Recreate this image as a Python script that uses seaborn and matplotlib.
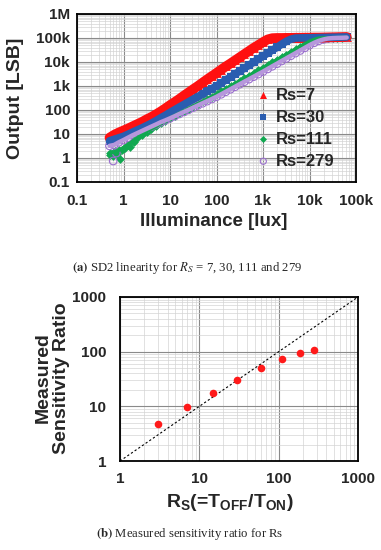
import matplotlib
matplotlib.use('Agg')
import numpy as np
import pandas as pd
import matplotlib.pyplot as plt
import seaborn as sns
from matplotlib.ticker import FixedLocator, FixedFormatter, LogLocator, NullFormatter

# --- data ---
lux = [0.5, 0.63, 0.79, 1.0, 1.26, 1.58, 2.0, 2.51, 3.16, 3.98, 5.01, 6.31, 7.94,
       10.0, 12.6, 15.8, 20.0, 25.1, 31.6, 39.8, 50.1, 63.1, 79.4,
       100, 126, 158, 200, 251, 316, 398, 501, 631, 794,
       1000, 1260, 1580, 2000, 2510, 3160, 3980, 5010, 6310, 7940,
       10000, 12600, 15800, 20000, 25100, 31600, 39800, 50100, 63100]

out_rs7 = [7, 9.3, 11.5, 14, 17, 21, 26, 32, 41, 51, 66, 87, 117,
           160, 214, 288, 400, 540, 740, 1000, 1380, 1900, 2570,
           3500, 4800, 6500, 8700, 11700, 15800, 21400, 28800, 38900, 51000,
           67600, 87000, 98000, 100000, 100000, 101000, 101000, 102000, 102000, 103000,
           103000, 104000, 104000, 105000, 106000, 107000, 108000, 109000, 110000]

out_rs30 = [5.2, 6, 6.9, 8, 9.8, 12, 14.8, 18, 22.4, 28, 36, 47, 60,
            79, 102, 132, 170, 219, 282, 363, 468, 603, 776,
            1000, 1320, 1780, 2340, 3160, 4170, 5500, 7400, 9800, 13200,
            17400, 23400, 30900, 40700, 55000, 72400, 89000, 99000, 100000, 101000,
            102000, 103000, 104000, 105000, 106000, 107000, 108000, 109000, 110000]

out_rs111 = [1.6, 1.8, 2.1, 2.6, 3.6, 5.0, 6.9, 9.3, 12.6, 16.6, 21, 28, 36,
             46, 58, 72, 91, 115, 145, 182, 229, 288, 363,
             457, 589, 759, 977, 1260, 1620, 2090, 2690, 3470, 4470,
             5750, 7410, 9550, 12300, 15800, 20400, 26300, 33900, 43700, 56200,
             72400, 87000, 97700, 100000, 101000, 102000, 103000, 104000, 105000]

out_rs279 = [3.2, 3.5, 4.5, 5.6, 7.1, 8.9, 11, 13.5, 16.6, 20.4, 25, 31, 37,
             45, 55, 68, 83, 102, 126, 155, 191, 234, 288,
             355, 452, 575, 733, 933, 1190, 1510, 1930, 2450, 3130,
             3980, 5130, 6610, 8510, 11000, 14100, 18200, 23400, 30200, 38900,
             50100, 63100, 75900, 87100, 95500, 99000, 101000, 102000, 104000]

# scattered low-light readings
lux_noise_111 = [0.52, 0.58, 0.66, 0.72, 0.86, 0.92, 1.1, 1.4, 1.7]
out_noise_111 = [1.3, 1.2, 2.0, 1.5, 0.9, 2.2, 2.6, 3.0, 4.5]
lux_noise_279 = [0.6, 0.7]
out_noise_279 = [0.75, 1.6]

rs_set = [3, 7, 15, 30, 60, 111, 186, 279]
sens_ratio = [4.7, 9.7, 17.9, 30.9, 50.4, 72.5, 93, 108]
ideal = [1, 1000]

y_ticks_a = [0.1, 1, 10, 100, 1e3, 1e4, 1e5, 1e6]
y_labels_a = ['0.1', '1', '10', '100', '1k', '10k', '100k', '1M']
x_ticks_a = [0.1, 1, 10, 100, 1e3, 1e4, 1e5]
x_labels_a = ['0.1', '1', '10', '100', '1k', '10k', '100k']
ticks_b = [1, 10, 100, 1000]
labels_b = ['1', '10', '100', '1000']

# --- style ---
sns.set_style('white')
plt.rcParams['font.family'] = ['Liberation Sans', 'DejaVu Sans']
plt.rcParams['mathtext.fontset'] = 'custom'
plt.rcParams['mathtext.bf'] = 'Liberation Sans:bold'
plt.rcParams['mathtext.rm'] = 'Liberation Sans:bold'


def style_log(ax, xt, xl, yt, yl, xpad, ypad):
    ax.set_xscale('log')
    ax.set_yscale('log')
    ax.set_xlim(xt[0], xt[-1])
    ax.set_ylim(yt[0], yt[-1])
    for axis, t, l in ((ax.xaxis, xt, xl), (ax.yaxis, yt, yl)):
        axis.set_major_locator(FixedLocator(t))
        axis.set_major_formatter(FixedFormatter(l))
        axis.set_minor_locator(LogLocator(base=10, subs=np.arange(2, 10), numticks=100))
        axis.set_minor_formatter(NullFormatter())
    ax.grid(which='major', color='#8a8a8a', lw=0.8)
    ax.grid(which='minor', color='#d4d4d4', lw=0.5)
    ax.set_axisbelow(True)
    for s in ax.spines.values():
        s.set_color('black')
        s.set_linewidth(1.3)
    ax.tick_params(which='both', length=0, labelsize=11)
    ax.tick_params(axis='x', pad=xpad)
    ax.tick_params(axis='y', pad=ypad)


def bold_ticks(ax):
    for lbl in ax.get_xticklabels() + ax.get_yticklabels():
        lbl.set_fontweight('bold')


fig = plt.figure(figsize=(3.81, 5.50), dpi=100)

# --- (a) linearity ---
ax1 = fig.add_axes([0.2021, 0.6691, 0.7323, 0.3055])
style_log(ax1, x_ticks_a, x_labels_a, y_ticks_a, y_labels_a, 9, 5)

series = [
    (out_rs7, [], [], '^', 40, '#ff1010', '#ff1010', 7.0, 'Rs=7'),
    (out_rs30, [], [], 's', 30, '#2a5db0', '#2a5db0', 5.5, 'Rs=30'),
    (out_rs111, lux_noise_111, out_noise_111, 'D', 20, '#10a850', '#10a850', 2.6, 'Rs=111'),
    (out_rs279, lux_noise_279, out_noise_279, 'o', 30, '#9b6fcf', '#b797dc', 3.2, 'Rs=279'),
]
for vals, nx, ny, mk, sz, col, band, lw, name in series:
    # dense readings merge into a band
    sns.lineplot(x=lux, y=vals, color=band, lw=lw, sort=False, estimator=None,
                 solid_capstyle='round', ax=ax1)
    if mk == 'o':
        sns.scatterplot(x=lux + nx, y=vals + ny, marker=mk, s=sz, facecolor='none',
                        edgecolor=col, linewidth=0.8, label=name, ax=ax1)
    else:
        sns.scatterplot(x=lux + nx, y=vals + ny, marker=mk, s=sz, color=col,
                        linewidth=0, label=name, ax=ax1)

ax1.legend(loc='lower left', bbox_to_anchor=(0.62, 0.03), frameon=False,
           handlelength=0.6, handletextpad=0.45, labelspacing=0.42,
           borderpad=0, markerscale=0.8, prop={'weight': 'bold', 'size': 12})

ax1.set_xlabel('Illuminance [lux]', fontsize=13.5, fontweight='bold')
ax1.set_ylabel('Output [LSB]', fontsize=14, fontweight='bold')
ax1.xaxis.label.set_va('center')
ax1.xaxis.set_label_coords(0.49, -0.238)
ax1.yaxis.label.set_va('center')
ax1.yaxis.set_label_coords(-0.222, 0.5)
bold_ticks(ax1)

fig.text(0.49, 1 - 268 / 550, r'$\mathbf{(a)}$ SD2 linearity for $R_S$ = 7, 30, 111 and 279',
         family='Liberation Serif', fontsize=9.2,
         math_fontfamily='stix', ha='center', va='center')

# --- (b) sensitivity ratio ---
ax2 = fig.add_axes([0.315, 0.1618, 0.6247, 0.2982])
style_log(ax2, ticks_b, labels_b, ticks_b, labels_b, 8, 10)

sns.lineplot(x=ideal, y=ideal, color='black', lw=0.8, linestyle=(0, (2, 2)), ax=ax2)
sns.scatterplot(x=rs_set, y=sens_ratio, marker='o', s=30, color='#ff1a1a',
                linewidth=0, ax=ax2, zorder=3)

ax2.set_xlabel(r'R$_{\mathbf{S}}$(=T$_{\mathbf{OFF}}$/T$_{\mathbf{ON}}$)',
               fontsize=14, fontweight='bold')
ax2.set_ylabel('Measured\nSensitivity Ratio', fontsize=14, fontweight='bold',
               linespacing=1.1)
ax2.xaxis.label.set_va('center')
ax2.xaxis.set_label_coords(0.46, -0.25)
ax2.yaxis.label.set_va('center')
ax2.yaxis.set_label_coords(-0.285, 0.506)
bold_ticks(ax2)

fig.text(0.497, 1 - 534 / 550, r'$\mathbf{(b)}$ Measured sensitivity ratio for Rs',
         family='Liberation Serif', fontsize=9.2,
         math_fontfamily='stix', ha='center', va='center')

fig.savefig('out.png', dpi=100)
